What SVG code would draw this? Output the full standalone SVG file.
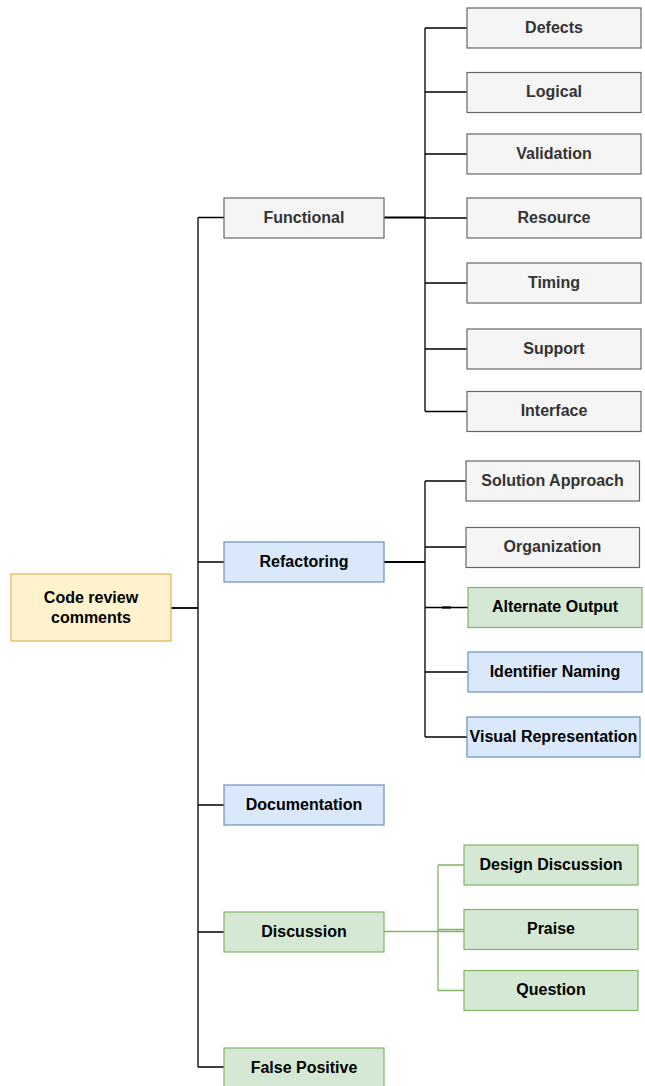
<svg xmlns="http://www.w3.org/2000/svg" width="645" height="1086" viewBox="0 0 645 1086">
<style>
.n rect{stroke-width:1.2}
.g rect{fill:#f5f5f5;stroke:#666666}
.b rect{fill:#dae8fc;stroke:#6c8ebf}
.gr rect{fill:#d5e8d4;stroke:#82b366}
.y rect{fill:#fff2cc;stroke:#d6b656}
text{font-family:"Liberation Sans",Arial,sans-serif;font-size:16px;font-weight:bold;text-anchor:middle;fill:#000}
.g text{fill:#333333}
.k{fill:none;stroke:#000;stroke-width:1.3}
.kt{fill:none;stroke:#000;stroke-width:1.8}
.kg{fill:none;stroke:#82b366;stroke-width:1.3}
</style>
<rect width="645" height="1086" fill="#ffffff"/>
<g id="connectors">
<path class="kt" d="M171,608H198"/>
<path class="k" d="M198,217.5V1067M198,217.5H224M198,562H224M198,805H224M198,932H224M198,1067H224"/>
<path class="kt" d="M384,217.5H425M384,562H425"/>
<path class="k" d="M425,28V411.5M425,28H467M425,92H467M425,154H467M425,218H467M425,283H467M425,349H467M425,411.5H467"/>
<path class="k" d="M425,481V737M425,481H466M425,547H466M425,607.5H468M425,672H468M425,737H467"/>
<path d="M442,607.5H451" stroke="#000" stroke-width="2.2"/>
<path class="kg" d="M384,931.5H464M438,865V990.5M438,865H464M438,929.5H464M438,990.5H464"/>
</g>
<g id="root" class="n y"><rect x="11" y="574" width="160" height="67"/><text x="91" y="602.5">Code review</text><text x="91" y="622.5">comments</text></g>
<g id="functional" class="n g"><rect x="224" y="198" width="160" height="40"/><text x="304" y="222.5">Functional</text></g>
<g id="refactoring" class="n b"><rect x="224" y="542" width="160" height="40"/><text x="304" y="566.5">Refactoring</text></g>
<g id="documentation" class="n b"><rect x="224" y="785" width="160" height="40"/><text x="304" y="809.5">Documentation</text></g>
<g id="discussion" class="n gr"><rect x="224" y="912" width="160" height="40"/><text x="304" y="936.5">Discussion</text></g>
<g id="false-positive" class="n gr"><rect x="224" y="1048" width="160" height="40"/><text x="304" y="1072.5">False Positive</text></g>
<g id="defects" class="n g"><rect x="467" y="8" width="174" height="40"/><text x="554" y="32.5">Defects</text></g>
<g id="logical" class="n g"><rect x="467" y="72.5" width="174" height="40"/><text x="554" y="96.5">Logical</text></g>
<g id="validation" class="n g"><rect x="467" y="134" width="174" height="40"/><text x="554" y="158.5">Validation</text></g>
<g id="resource" class="n g"><rect x="467" y="198" width="174" height="40"/><text x="554" y="222.5">Resource</text></g>
<g id="timing" class="n g"><rect x="467" y="263" width="174" height="40"/><text x="554" y="287.5">Timing</text></g>
<g id="support" class="n g"><rect x="467" y="329" width="174" height="40"/><text x="554" y="353.5">Support</text></g>
<g id="interface" class="n g"><rect x="467" y="391.5" width="174" height="40"/><text x="554" y="416">Interface</text></g>
<g id="solution-approach" class="n g"><rect x="466" y="461" width="173.5" height="40"/><text x="552.5" y="485.5">Solution Approach</text></g>
<g id="organization" class="n g"><rect x="466" y="527.5" width="173.5" height="40"/><text x="552.5" y="551.5">Organization</text></g>
<g id="alternate-output" class="n gr"><rect x="468" y="587.5" width="174" height="40"/><text x="555" y="612">Alternate Output</text></g>
<g id="identifier-naming" class="n b"><rect x="468" y="652" width="174" height="40"/><text x="555" y="676.5">Identifier Naming</text></g>
<g id="visual-representation" class="n b"><rect x="467" y="717" width="173" height="40"/><text x="553.5" y="741.5">Visual Representation</text></g>
<g id="design-discussion" class="n gr"><rect x="464" y="845" width="174" height="40"/><text x="551" y="869.5">Design Discussion</text></g>
<g id="praise" class="n gr"><rect x="464" y="909.5" width="174" height="40"/><text x="551" y="933.5">Praise</text></g>
<g id="question" class="n gr"><rect x="464" y="970.5" width="174" height="40"/><text x="551" y="995">Question</text></g>
</svg>
